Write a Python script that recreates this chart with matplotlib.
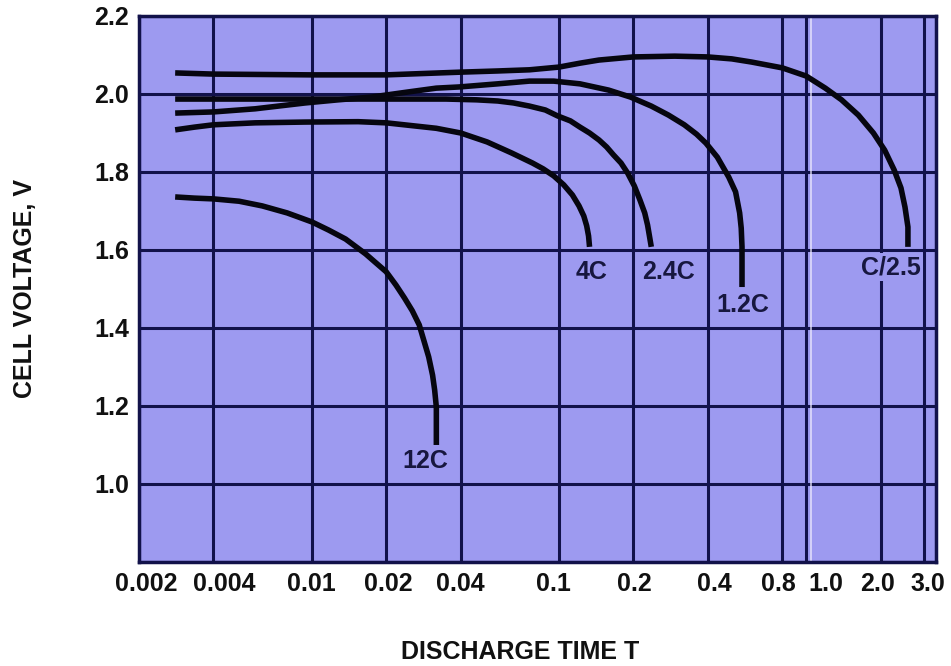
import matplotlib.pyplot as plt
from matplotlib.ticker import NullLocator
from matplotlib.transforms import ScaledTranslation

# discharge curves (T in hours, V per cell)
t_12c = [0.0028, 0.00335, 0.004, 0.00508, 0.0063, 0.00795, 0.01, 0.0117, 0.0137, 0.0165,
         0.02, 0.0219, 0.0237, 0.0255, 0.0272, 0.0297, 0.0308, 0.0314, 0.0319, 0.0319]
v_12c = [1.736, 1.733, 1.731, 1.725, 1.713, 1.695, 1.672, 1.651, 1.628, 1.590,
         1.544, 1.510, 1.477, 1.444, 1.408, 1.326, 1.279, 1.241, 1.197, 1.100]

t_4c = [0.0028, 0.00335, 0.004, 0.0059, 0.0094, 0.0154, 0.02, 0.0319, 0.04, 0.0512,
        0.0642, 0.0781, 0.0863, 0.0952, 0.1045, 0.1133, 0.1205, 0.126, 0.1294, 0.1317, 0.1329]
v_4c = [1.908, 1.915, 1.921, 1.926, 1.928, 1.929, 1.926, 1.912, 1.900, 1.877,
        1.849, 1.823, 1.808, 1.790, 1.767, 1.741, 1.713, 1.687, 1.662, 1.636, 1.608]

t_24c = [0.0028, 0.0088, 0.0349, 0.0464, 0.0565, 0.0655, 0.0759, 0.088, 0.0985, 0.1112,
         0.1216, 0.1329, 0.1452, 0.1559, 0.166, 0.1782, 0.1896, 0.2018, 0.2126, 0.2222,
         0.2282, 0.2322, 0.2362]
v_24c = [1.987, 1.987, 1.987, 1.985, 1.982, 1.977, 1.969, 1.959, 1.944, 1.931,
         1.915, 1.900, 1.882, 1.864, 1.844, 1.823, 1.797, 1.764, 1.728, 1.695,
         1.664, 1.636, 1.608]

t_12 = [0.0028, 0.004, 0.0059, 0.0094, 0.0128, 0.0174, 0.0244, 0.0319, 0.0394, 0.0565,
        0.0759, 0.0952, 0.1216, 0.1587, 0.1948, 0.2362, 0.277, 0.3213, 0.36, 0.393,
        0.437, 0.486, 0.518, 0.538, 0.546, 0.55, 0.55]
v_12 = [1.951, 1.954, 1.962, 1.977, 1.985, 1.992, 2.005, 2.015, 2.018, 2.026,
        2.033, 2.033, 2.026, 2.010, 1.992, 1.969, 1.946, 1.921, 1.897, 1.874,
        1.838, 1.787, 1.749, 1.695, 1.656, 1.608, 1.505]

t_c25 = [0.0028, 0.004, 0.01, 0.02, 0.04, 0.0565, 0.076, 0.1, 0.1216, 0.145,
         0.2, 0.294, 0.4, 0.5, 0.6, 0.8, 1.0, 1.195, 1.39, 1.625,
         1.87, 2.077, 2.27, 2.418, 2.51, 2.58, 2.58]
v_c25 = [2.054, 2.051, 2.049, 2.049, 2.056, 2.059, 2.062, 2.069, 2.079, 2.087,
         2.095, 2.097, 2.095, 2.090, 2.082, 2.067, 2.046, 2.015, 1.985, 1.946,
         1.900, 1.856, 1.805, 1.759, 1.710, 1.659, 1.608]

curve_names = ["12C", "4C", "2.4C", "1.2C", "C/2.5"]
label_t = [0.0287, 0.135, 0.277, 0.556, 2.21]
label_v = [1.059, 1.544, 1.544, 1.459, 1.556]

x_ticks = [0.002, 0.004, 0.01, 0.02, 0.04, 0.1, 0.2, 0.4, 0.8, 1.0, 2.0, 3.0]
x_labels = ["0.002", "0.004", "0.01", "0.02", "0.04", "0.1", "0.2", "0.4", "0.8", "1.0", "2.0", "3.0"]
y_ticks = [0.8, 1.0, 1.2, 1.4, 1.6, 1.8, 2.0, 2.2]
y_labels = ["", "1.0", "1.2", "1.4", "1.6", "1.8", "2.0", "2.2"]

# nudges (px) so the crowded x labels sit like in the original print
x_label_shift = [7, 11, 0, 2, 0, -6, 1, 7, -4, 20, -3, 4]

bg = "#9d9af0"
grid_col = "#12124a"
ink = "#06060f"

plt.rcParams['font.family'] = ['Liberation Sans', 'DejaVu Sans']
plt.rcParams['font.weight'] = 'bold'
plt.rcParams['axes.labelweight'] = 'bold'

fig = plt.figure(figsize=(9.51, 6.66), dpi=100)
ax = fig.add_axes([0.1462, 0.1562, 0.838, 0.8198])
ax.set_facecolor(bg)

ax.set_xscale('log')
ax.set_xlim(0.002, 3.35)
ax.set_ylim(0.8, 2.2)
ax.xaxis.set_minor_locator(NullLocator())
ax.set_xticks(x_ticks)
ax.set_xticklabels(x_labels)
ax.set_yticks(y_ticks)
ax.set_yticklabels(y_labels)
ax.tick_params(length=0, labelsize=18, colors='#111111', pad=7)
ax.grid(True, color=grid_col, lw=2.2)
ax.set_axisbelow(True)
for sp in ax.spines.values():
    sp.set_color(grid_col)
    sp.set_linewidth(2.5)

for lab, dx in zip(ax.get_xticklabels(), x_label_shift):
    lab.set_transform(lab.get_transform() + ScaledTranslation(dx / 100, 0, fig.dpi_scale_trans))

# paste-up seam next to the 1.0 line
ax.axvline(1.05, color='#f2efff', lw=1.1, alpha=0.85, zorder=2)

curves = [(t_12c, v_12c), (t_4c, v_4c), (t_24c, v_24c), (t_12, v_12), (t_c25, v_c25)]
for t, v in curves:
    ax.plot(t, v, color=ink, lw=4, solid_capstyle='butt', solid_joinstyle='round', zorder=3)

for name, lt, lv in zip(curve_names, label_t, label_v):
    box = None
    if name == "C/2.5":
        box = dict(facecolor=bg, edgecolor='none', pad=1.5)
    ax.text(lt, lv, name, ha='center', va='center', fontsize=18, color='#17173f',
            fontweight='bold', bbox=box, zorder=4)

ax.set_ylabel("CELL VOLTAGE, V", fontsize=18, color='#111111', fontweight='bold')
ax.yaxis.set_label_coords(-0.128, 0.5)
ax.set_xlabel("DISCHARGE TIME T", fontsize=18, color='#111111', fontweight='bold')
ax.xaxis.set_label_coords(0.478, -0.143)

fig.savefig("out.png", dpi=100)
